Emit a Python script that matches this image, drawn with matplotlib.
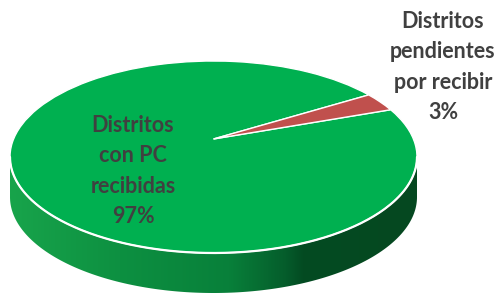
import numpy as np
import matplotlib
matplotlib.use('Agg')
import matplotlib.pyplot as plt
from matplotlib.path import Path
from matplotlib.patches import PathPatch, Polygon
from matplotlib.colors import LinearSegmentedColormap

# datos
categorias = ['Distritos\ncon PC\nrecibidas', 'Distritos\npendientes\npor recibir']
valores = [97, 3]
colores = ['#00b050', '#c0504d']
etiquetas = [c + '\n' + str(v) + '%' for c, v in zip(categorias, valores)]

# geometria de la "torta 3D" en pixeles
cx, cy = 213.5, 157.0   # centro de la elipse superior
a, b = 203.5, 96.0      # semiejes
prof = 40.0             # espesor lateral
desplaz = 18.0          # perspectiva: el vertice se ve mas arriba

fig = plt.figure(figsize=(5.01, 2.95), dpi=100)
ax = fig.add_axes([0, 0, 1, 1])

wedges, _ = ax.pie(valores, colors=colores, startangle=40.3, counterclock=True,
                   radius=1, center=(0, 0))

# lateral visible (mitad delantera) con degradado
th = np.linspace(np.pi, 2 * np.pi, 200)
xs = cx + a * np.cos(th)
ys = cy - b * np.sin(th)
lado = np.vstack([np.column_stack([xs, ys]), np.column_stack([xs[::-1], ys[::-1] + prof])])

ax.cla()
ax.set_xlim(0, 501)
ax.set_ylim(295, 0)
ax.axis('off')

poly = Polygon(lado, closed=True, facecolor='none', edgecolor='none')
ax.add_patch(poly)
cmap = LinearSegmentedColormap.from_list('lado', [
    (0.0, '#18a44b'), (0.27, '#0d9041'), (0.54, '#08803a'),
    (0.68, '#055c2b'), (0.72, '#034b22'), (1.0, '#064820')])
grad = np.linspace(0, 1, 256).reshape(1, -1)
im = ax.imshow(grad, cmap=cmap, extent=(cx - a, cx + a, cy + b + prof + 2, cy - 5),
               aspect='auto', interpolation='bilinear', zorder=1)
im.set_clip_path(poly)

# cara superior: cunas del pie deformadas a la elipse
for w, col in zip(wedges, colores):
    p = w.get_path()
    v = p.vertices
    r = np.hypot(v[:, 0], v[:, 1])
    nv = np.column_stack([cx + a * v[:, 0],
                          cy - b * v[:, 1] - desplaz * np.clip(1 - r, 0, None)])
    ax.add_patch(PathPatch(Path(nv, p.codes), facecolor=col, edgecolor='white',
                           linewidth=1.0, zorder=2))

# borde blanco delantero
ax.plot(xs, ys, color='white', linewidth=1.6, zorder=3, solid_capstyle='round')

fuente = dict(family=['Lato', 'DejaVu Sans'], fontweight='bold', fontsize=15.5,
              color='#404040', ha='center', va='center', linespacing=1.54)
ax.text(133, 171, etiquetas[0], zorder=4, **fuente)
ax.text(443, 67, etiquetas[1], zorder=4, **fuente)

fig.savefig('out.png', dpi=100)
